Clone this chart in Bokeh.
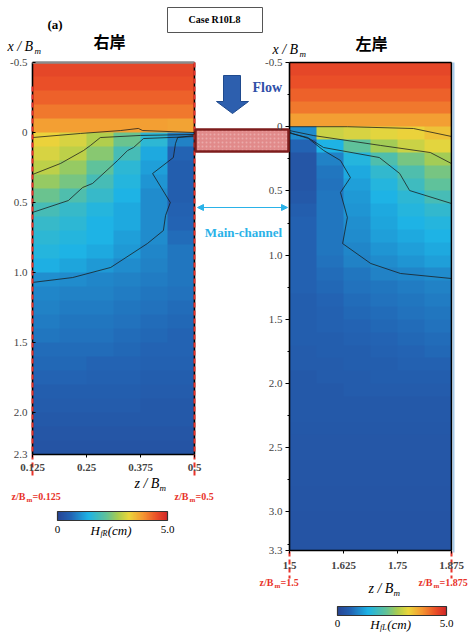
import numpy as np
from bokeh.plotting import figure
from bokeh.models import (Range1d, LinearAxis, FixedTicker, LinearColorMapper,
                          Arrow, NormalHead)
from bokeh.core.properties import value
from bokeh.embed import file_html
from bokeh.resources import INLINE

# ------------------------------------------------------------------ data
# right bank (右岸) panel
Z_TICKS_R = [0.125, 0.25, 0.375, 0.5]
Z_LABELS_R = ["0.125", "0.25", "0.375", "0.5"]
X_TICKS_R = [-0.5, 0.0, 0.5, 1.0, 1.5, 2.0, 2.3]
X_LABELS_R = ["-0.5", "0", "0.5", "1.0", "1.5", "2.0", "2.3"]
# left bank (左岸) panel
Z_TICKS_L = [1.5, 1.625, 1.75, 1.875]
Z_LABELS_L = ["1.5", "1.625", "1.75", "1.875"]
X_TICKS_L = [-0.5, 0.0, 0.5, 1.0, 1.5, 2.0, 2.5, 3.0, 3.3]
X_LABELS_L = ["-0.5", "0", "0.5", "1.0", "1.5", "2.0", "2.5", "3.0", "3.3"]
X_MINOR_L = [-0.25, 0.25, 0.75, 1.25, 1.75, 2.25, 2.75, 3.25]

CB_TICKS = [0.0, 5.0]
CB_LABELS = ["0", "5.0"]

# H_fR (cm): rows x/Bm = -0.45 ... 2.25 (step 0.1), cols z/Bm 0.156 ... 0.469
HFR = [
    [4.6, 4.6, 4.6, 4.6, 4.6, 4.6],
    [4.5, 4.5, 4.5, 4.5, 4.5, 4.5],
    [4.35, 4.35, 4.35, 4.35, 4.35, 4.35],
    [4.15, 4.15, 4.15, 4.15, 4.15, 4.15],
    [3.8, 3.8, 3.8, 3.8, 3.8, 3.75],
    [3.3, 3.1, 2.8, 2.3, 1.6, 0.9],
    [3.1, 2.9, 2.5, 1.9, 1.3, 0.6],
    [2.9, 2.6, 2.2, 1.6, 1.2, 0.5],
    [2.6, 2.4, 1.9, 1.5, 1.1, 0.5],
    [2.3, 2.0, 1.7, 1.4, 1.0, 0.5],
    [1.9, 1.7, 1.5, 1.3, 1.0, 0.55],
    [1.7, 1.6, 1.4, 1.3, 1.0, 0.6],
    [1.6, 1.5, 1.4, 1.2, 1.0, 0.7],
    [1.5, 1.4, 1.3, 1.15, 0.95, 0.8],
    [1.35, 1.25, 1.15, 1.0, 0.9, 0.8],
    [1.05, 1.0, 0.95, 0.9, 0.85, 0.8],
    [0.95, 0.9, 0.9, 0.85, 0.8, 0.75],
    [0.9, 0.85, 0.85, 0.8, 0.75, 0.7],
    [0.85, 0.8, 0.8, 0.75, 0.7, 0.65],
    [0.8, 0.75, 0.75, 0.7, 0.65, 0.6],
    [0.7, 0.7, 0.7, 0.65, 0.6, 0.6],
    [0.65, 0.65, 0.6, 0.6, 0.55, 0.55],
    [0.6, 0.6, 0.55, 0.55, 0.5, 0.5],
    [0.5, 0.5, 0.5, 0.5, 0.45, 0.45],
    [0.45, 0.45, 0.45, 0.45, 0.4, 0.4],
    [0.4, 0.4, 0.4, 0.4, 0.4, 0.4],
    [0.35, 0.35, 0.35, 0.35, 0.35, 0.35],
    [0.3, 0.3, 0.3, 0.3, 0.3, 0.3],
]

# H_fL (cm): rows x/Bm = -0.45 ... 3.25 (step 0.1), cols z/Bm 1.531 ... 1.844
HFL = [
    [4.6, 4.6, 4.6, 4.6, 4.6, 4.6],
    [4.5, 4.5, 4.5, 4.5, 4.5, 4.5],
    [4.35, 4.35, 4.35, 4.35, 4.35, 4.35],
    [4.15, 4.15, 4.15, 4.15, 4.15, 4.15],
    [3.8, 3.8, 3.8, 3.8, 3.8, 3.8],
    [1.0, 3.0, 3.1, 3.2, 3.3, 3.45],
    [0.6, 1.4, 2.2, 2.7, 3.0, 3.2],
    [0.35, 0.9, 1.5, 2.0, 2.4, 2.7],
    [0.35, 0.8, 1.3, 1.65, 2.0, 2.4],
    [0.35, 0.75, 1.2, 1.5, 1.8, 2.2],
    [0.4, 0.8, 1.15, 1.4, 1.6, 1.9],
    [0.5, 0.8, 1.1, 1.3, 1.5, 1.65],
    [0.55, 0.8, 1.05, 1.25, 1.4, 1.5],
    [0.55, 0.8, 1.0, 1.2, 1.3, 1.4],
    [0.55, 0.8, 0.95, 1.1, 1.2, 1.3],
    [0.55, 0.75, 0.9, 1.0, 1.1, 1.2],
    [0.55, 0.7, 0.8, 0.9, 0.95, 1.0],
    [0.55, 0.65, 0.75, 0.8, 0.85, 0.9],
    [0.5, 0.6, 0.7, 0.75, 0.8, 0.85],
    [0.5, 0.55, 0.65, 0.7, 0.75, 0.8],
    [0.5, 0.55, 0.6, 0.65, 0.7, 0.75],
    [0.5, 0.5, 0.55, 0.6, 0.65, 0.7],
    [0.45, 0.5, 0.5, 0.55, 0.6, 0.65],
    [0.45, 0.45, 0.5, 0.5, 0.55, 0.55],
    [0.4, 0.45, 0.45, 0.5, 0.5, 0.5],
    [0.4, 0.4, 0.45, 0.45, 0.45, 0.45],
    [0.4, 0.4, 0.4, 0.4, 0.4, 0.4],
    [0.4, 0.4, 0.4, 0.4, 0.4, 0.4],
    [0.38, 0.38, 0.38, 0.38, 0.38, 0.38],
    [0.37, 0.37, 0.37, 0.37, 0.37, 0.37],
    [0.36, 0.36, 0.36, 0.36, 0.36, 0.36],
    [0.35, 0.35, 0.35, 0.35, 0.35, 0.35],
    [0.34, 0.34, 0.34, 0.34, 0.34, 0.34],
    [0.33, 0.33, 0.33, 0.33, 0.33, 0.33],
    [0.32, 0.32, 0.32, 0.32, 0.32, 0.32],
    [0.31, 0.31, 0.31, 0.31, 0.31, 0.31],
    [0.3, 0.3, 0.3, 0.3, 0.3, 0.3],
    [0.3, 0.3, 0.3, 0.3, 0.3, 0.3],
]

# contour lines (z/Bm, x/Bm)
CONT_R_Z = [
    [0.125, 0.236, 0.329, 0.370, 0.380, 0.5],
    [0.125, 0.190, 0.243, 0.259, 0.282, 0.375, 0.5],
    [0.125, 0.208, 0.241, 0.264, 0.322, 0.345, 0.359, 0.382, 0.5],
    [0.125, 0.218, 0.306, 0.391, 0.428, 0.433, 0.444, 0.403, 0.451, 0.456, 0.461, 0.5],
]
CONT_R_X = [
    [0.036, 0.007, -0.014, -0.029, -0.014, 0.0],
    [0.300, 0.221, 0.129, 0.093, 0.036, 0.021, 0.014],
    [0.571, 0.486, 0.393, 0.364, 0.200, 0.129, 0.107, 0.043, 0.029],
    [1.071, 1.036, 0.964, 0.793, 0.700, 0.593, 0.500, 0.293, 0.179, 0.079, 0.036, 0.021],
]
CONT_L_Z = [
    [1.5, 1.634, 1.787, 1.875],
    [1.5, 1.556, 1.711, 1.826, 1.875],
    [1.5, 1.542, 1.579, 1.708, 1.755, 1.778, 1.875],
    [1.5, 1.507, 1.544, 1.579, 1.618, 1.641, 1.618, 1.634, 1.623, 1.688, 1.757, 1.875],
]
CONT_L_X = [
    [0.0, 0.0, 0.014, 0.076],
    [0.030, 0.069, 0.146, 0.201, 0.287],
    [0.05, 0.084, 0.162, 0.240, 0.364, 0.497, 0.598],
    [0.04, 0.053, 0.092, 0.185, 0.263, 0.396, 0.512, 0.707, 0.910, 1.065, 1.143, 1.182],
]

# ------------------------------------------------------------------ style / layout
SERIF = "Liberation Serif"
CJK = "Noto Sans CJK JP"
RED = "#e8332a"
W, H = 469, 632
PX0, PX1 = 0, 469      # page coordinate span (x)
PY0, PY1 = 0, 632      # page coordinate span (y, top -> bottom)

stops_pos = [0.0, 0.12, 0.28, 0.45, 0.55, 0.65, 0.78, 0.9, 1.0]
stops_rgb = [(40, 70, 150), (35, 100, 180), (30, 180, 230), (100, 195, 150),
             (170, 205, 80), (235, 215, 60), (245, 150, 50), (235, 80, 40), (210, 40, 40)]
tt = np.linspace(0, 1, 256)
chan = [np.interp(tt, stops_pos, [c[i] for c in stops_rgb]) for i in range(3)]
PALETTE = ["#%02x%02x%02x" % (int(r), int(g), int(b)) for r, g, b in zip(*chan)]
mapper = LinearColorMapper(palette=PALETTE, low=CB_TICKS[0], high=CB_TICKS[-1])


def xr(a_px, b_px, a_val, b_val):
    k = (b_val - a_val) / (b_px - a_px)
    return Range1d(start=a_val + (PX0 - a_px) * k, end=a_val + (PX1 - a_px) * k)


def yr(a_px, b_px, a_val, b_val):
    k = (b_val - a_val) / (b_px - a_px)
    return Range1d(start=a_val + (PY1 - a_px) * k, end=a_val + (PY0 - a_px) * k)


p = figure(width=W, height=H, x_range=Range1d(PX0, PX1), y_range=Range1d(PY1, PY0),
           x_axis_type=None, y_axis_type=None, toolbar_location=None,
           output_backend="svg", min_border=0, outline_line_color=None)
p.background_fill_color = "white"

p.extra_x_ranges = {
    "zR": xr(32, 194, Z_TICKS_R[0], Z_TICKS_R[-1]),
    "zL": xr(289, 451, Z_TICKS_L[0], Z_TICKS_L[-1]),
    "cbR": xr(57, 167, CB_TICKS[0], CB_TICKS[-1]),
    "cbL": xr(337, 446, CB_TICKS[0], CB_TICKS[-1]),
}
p.extra_y_ranges = {
    "xR": yr(62, 454, X_TICKS_R[0], X_TICKS_R[-1]),
    "xL": yr(62, 550, X_TICKS_L[0], X_TICKS_L[-1]),
}


def T(x, y, s, size=11, style="normal", color="black", align="left",
      font=SERIF, xn="default", yn="default"):
    p.text(x=[x], y=[y], text=[s], text_font=value(font), text_font_size=f"{size}px",
           text_font_style=style, text_color=color, text_align=align,
           text_baseline="middle", x_range_name=xn, y_range_name=yn)


# ------------------------------------------------------------------ panels
for key, zt, xt, grid, cz, cx in [("R", Z_TICKS_R, X_TICKS_R, HFR, CONT_R_Z, CONT_R_X),
                                   ("L", Z_TICKS_L, X_TICKS_L, HFL, CONT_L_Z, CONT_L_X)]:
    zn, xn = "z" + key, "x" + key
    p.image(image=[np.array(grid, dtype=float)], x=zt[0], y=xt[0],
            dw=zt[-1] - zt[0], dh=xt[-1] - xt[0], color_mapper=mapper,
            x_range_name=zn, y_range_name=xn)
    p.multi_line(xs=cz, ys=cx, line_color="#1a1a1a", line_width=0.9, line_alpha=0.85,
                 x_range_name=zn, y_range_name=xn)
    # frame
    top_col = "#8a8a8a" if key == "R" else "black"
    p.segment(x0=[zt[0], zt[0], zt[-1]], y0=[xt[0], xt[-1], xt[0]],
              x1=[zt[0], zt[-1], zt[-1]], y1=[xt[-1], xt[-1], xt[-1]],
              line_color="black", line_width=1.6, x_range_name=zn, y_range_name=xn)
    p.segment(x0=[zt[0]], y0=[xt[0]], x1=[zt[-1]], y1=[xt[0]], line_color=top_col,
              line_width=2.5 if key == "R" else 1.6, x_range_name=zn, y_range_name=xn)

    labels_z = Z_LABELS_R if key == "R" else Z_LABELS_L
    labels_x = X_LABELS_R if key == "R" else X_LABELS_L
    xa = LinearAxis(x_range_name=zn, y_range_name=xn, fixed_location=xt[-1],
                    ticker=FixedTicker(ticks=zt),
                    major_label_overrides=dict(zip(zt, labels_z)),
                    axis_line_color=None, major_tick_in=0, major_tick_out=3,
                    minor_tick_line_color=None, major_label_standoff=6 if key == "R" else 8,
                    major_label_text_font=SERIF, major_label_text_font_size="11px",
                    major_label_text_font_style="bold")
    p.add_layout(xa, "below")
    ya = LinearAxis(x_range_name=zn, y_range_name=xn, fixed_location=zt[0],
                    ticker=FixedTicker(ticks=xt, minor_ticks=(X_MINOR_L if key == "L" else [])),
                    major_label_overrides=dict(zip(xt, labels_x)),
                    axis_line_color=None,
                    major_tick_in=0 if key == "L" else 3,
                    major_tick_out=4 if key == "L" else 0,
                    minor_tick_in=0, minor_tick_out=2,
                    major_label_standoff=3 if key == "L" else 5,
                    major_label_text_font=SERIF, major_label_text_font_size="11px")
    p.add_layout(ya, "left")

# light-blue edge at right of the left-bank panel
p.segment(x0=[453], y0=[62], x1=[453], y1=[552], line_color="#a8cbea", line_width=2)

# red dashed guide lines at the panel edges
p.segment(x0=[Z_TICKS_R[0], Z_TICKS_R[-1]], y0=[86, 62], x1=[Z_TICKS_R[0], Z_TICKS_R[-1]],
          y1=[478, 478], line_color=RED, line_width=2, line_dash="5 3", x_range_name="zR")
p.segment(x0=[Z_TICKS_L[0], Z_TICKS_L[-1]], y0=[551, 551], x1=[Z_TICKS_L[0], Z_TICKS_L[-1]],
          y1=[578, 578], line_color=RED, line_width=2, line_dash="5 3", x_range_name="zL")

# ------------------------------------------------------------------ colour bars
for cbn, y_top, y_lab, sub in [("cbR", 511, 529, "fR"), ("cbL", 606, 623, "fL")]:
    p.image(image=[np.linspace(CB_TICKS[0], CB_TICKS[-1], 256).reshape(1, -1)],
            x=CB_TICKS[0], y=y_top, dw=CB_TICKS[-1] - CB_TICKS[0], dh=9,
            color_mapper=mapper, x_range_name=cbn)
    p.quad(left=[CB_TICKS[0]], right=[CB_TICKS[-1]], top=[y_top], bottom=[y_top + 9],
           fill_color=None, line_color="#333333", line_width=1.2, x_range_name=cbn)
    for v, s in zip(CB_TICKS, CB_LABELS):
        T(v, y_lab, s, size=11, align="center", xn=cbn)
    T(1.5, y_lab + 1, "H", size=13, style="italic", xn=cbn)
    T(1.95, y_lab + 4, sub, size=8, style="italic", xn=cbn)
    T(2.28, y_lab + 1, "(cm)", size=13, style="italic", xn=cbn)

# ------------------------------------------------------------------ annotations
T(47, 24, "(a)", size=13, style="bold")
p.quad(left=[167], right=[262], top=[7], bottom=[32], fill_color="white",
       line_color="#555555", line_width=1)
T(214, 19, "Case R10L8", size=10, style="bold", align="center")
T(109, 40, "右岸", size=16, style="bold", align="center", font=CJK)
T(371, 42, "左岸", size=16, style="bold", align="center", font=CJK)

for x0, y0 in [(7, 46), (272, 49)]:
    T(x0, y0, "x / B", size=14, style="italic")
    T(x0 + 27, y0 + 4, "m", size=9, style="italic")
for x0, y0 in [(134, 483), (368, 588)]:
    T(x0, y0, "z / B", size=14, style="italic")
    T(x0 + 25, y0 + 4, "m", size=9, style="italic")

for x0, y0, s in [(11, 496, "=0.125"), (174, 496, "=0.5"),
                  (259, 582, "=1.5"), (418, 582, "=1.875")]:
    T(x0, y0, "z/B", size=10, style="bold", color=RED)
    T(x0 + 15, y0 + 3, "m", size=7, style="bold", color=RED)
    T(x0 + 21, y0, s, size=10, style="bold", color=RED)

# flow arrow
p.patch(x=[223, 240, 240, 248, 232, 216, 223], y=[75, 75, 101, 101, 113, 101, 101],
        fill_color="#2d5fae", line_color="#1f4a8e", line_width=1)
T(252, 87, "Flow", size=14, style="bold", color="#3050a8")

# hatched block between banks
p.quad(left=[195], right=[288], top=[129], bottom=[151], fill_color="#e18a8a",
       line_color="#7d1c1c", line_width=2.5, hatch_pattern="dot", hatch_color="#f2c0c0",
       hatch_scale=4, hatch_alpha=0.6)

# main channel arrow
MC = "#2ab2e8"
p.add_layout(Arrow(start=NormalHead(size=6, fill_color=MC, line_color=MC),
                   end=NormalHead(size=6, fill_color=MC, line_color=MC),
                   x_start=197, y_start=207, x_end=287, y_end=207,
                   line_color=MC, line_width=1.2))
T(243, 232, "Main-channel", size=13, style="bold", color=MC, align="center")

open("out.html", "w").write(file_html(p, INLINE))
